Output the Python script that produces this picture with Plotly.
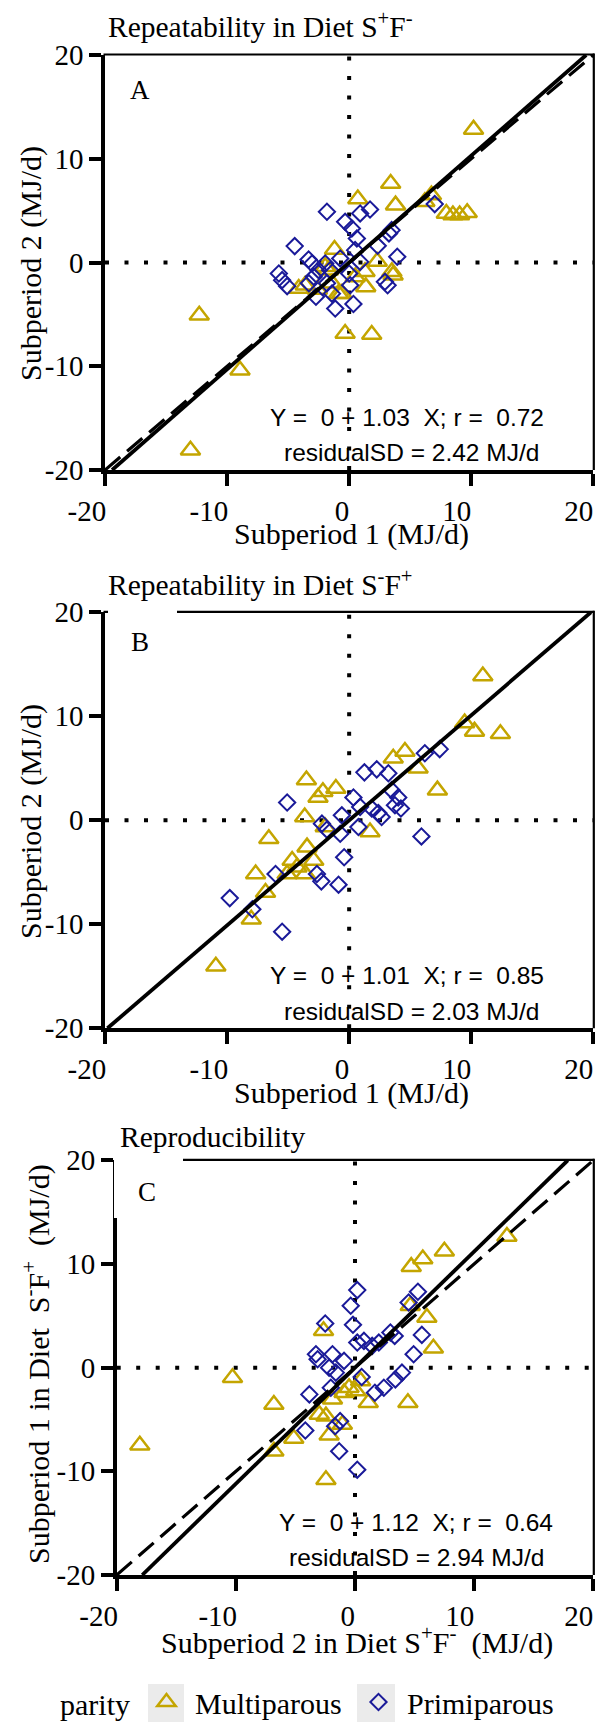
import plotly.graph_objects as go

W, H = 602, 1722

# ---------------- data ----------------
# Panel A: Repeatability in Diet S+F-  (x = Subperiod 1, y = Subperiod 2)
a_multi_x = [10.19, 3.40, 0.71, 3.80, 6.74, 6.2, 7.96, 8.5, 9.05, 9.67, -1.2, 2.3, 1.3, 3.6,
             1.36, -0.33, 1.85, -12.28, -8.94, -13.0, -4.13, -3.6, -1.96, -1.4, -0.6, 0.5,
             -0.87, -1.7, 3.5, -2.6]
a_multi_y = [12.83, 7.62, 6.11, 5.53, 6.5, 5.85, 4.73, 4.57, 4.57, 4.79, 1.25, 0.1, -0.9, -1.22,
             -2.35, -6.85, -6.95, -5.08, -10.39, -18.1, -2.5, -2.2, -0.42, -2.0, -3.0, -1.4,
             -3.0, -0.74, -0.9, -2.6]
a_primi_x = [-1.82, -0.33, 0.9, 1.71, 0.22, 0.63, 0.49, 3.48, 3.26, 2.34, 3.94, -4.46, 0.9,
             -3.32, -3.04, -5.76, -5.49, -5.08, -2.5, -2.9, -3.3, -1.96, -1.55, -1.82, -1.41,
             -2.72, -1.14, 0.35, 0.08, 2.93, 3.15, 7.01, -0.73, 0.0]
a_primi_y = [4.89, 3.92, 4.73, 5.11, 3.28, 2.32, 1.19, 3.12, 2.8, 1.61, 0.55, 1.58, 0.06,
             0.29, -0.1, -1.06, -1.7, -2.28, -0.74, -1.38, -2.0, -0.1, -0.74, -2.0, -3.0,
             -3.3, -4.44, -4.0, -2.19, -1.86, -2.19, 5.63, 0.39, -1.06]

# Panel B: Repeatability in Diet S-F+
b_multi_x = [10.95, 9.46, 10.27, 12.39, 4.57, 3.61, 5.65, 7.23, -3.5, -2.15, -2.55, -1.09,
             -3.64, -6.58, 1.71, -1.96, -3.45, -4.67, -2.9, -7.66, -5.08, -3.59, -6.85,
             -8.02, -10.92, -4.27]
b_multi_y = [13.87, 9.35, 8.55, 8.32, 6.61, 5.97, 5.0, 2.9, 3.87, 2.74, 2.19, 3.06, 0.32,
             -1.77, -1.13, -0.65, -2.58, -3.87, -3.87, -5.16, -5.16, -5.16, -6.94, -9.52,
             -14.03, -4.52]
b_primi_x = [7.42, 6.2, 1.25, 2.26, 3.21, -5.08, 0.35, 3.48, 4.02, 4.24, 2.39, 2.66, -0.6,
             -2.23, -1.82, 0.76, 0.9, -0.73, 5.92, -0.41, -6.03, -2.64, -2.28, -0.87, -9.78,
             -7.93, -5.49, 1.85, 3.75]
b_primi_y = [6.84, 6.45, 4.61, 4.9, 4.52, 1.71, 2.19, 2.9, 2.19, 1.13, 0.71, 0.32, 0.48,
             -0.32, -0.9, -0.65, 1.29, -1.29, -1.55, -3.55, -5.16, -5.16, -5.87, -6.19, -7.48,
             -8.55, -10.71, 1.13, 1.45]

# Panel C: Reproducibility (x = Subperiod 2 in S+F-, y = Subperiod 1 in S-F+)
c_multi_x = [12.75, 7.5, 5.69, 4.72, 4.64, 6.03, 6.58, -2.64, -10.28, -6.81, 4.44, 1.11,
             -0.5, -0.92, -1.89, -3.0, -2.44, -1.06, -2.17, -5.14, -6.81, -18.06, -2.44,
             0.06, 0.47]
c_multi_y = [12.65, 11.23, 10.48, 9.74, 5.97, 4.84, 1.87, 3.55, -0.97, -3.55, -3.39, -3.39,
             -1.94, -2.42, -3.06, -4.52, -4.68, -5.48, -6.52, -6.84, -8.06, -7.48, -10.81,
             -2.26, -1.29]
c_primi_x = [0.19, -0.36, 5.28, 4.5, -2.5, -0.17, 3.33, 2.97, 5.61, 0.19, 1.44, 0.75, -3.28,
             -3.14, -1.89, -0.92, -2.17, -1.61, 0.56, 4.92, 3.94, 3.39, 2.42, 1.67, -2.03,
             -3.83, -1.25, -1.67, -4.17, -1.33, 0.19, 2.0]
c_primi_y = [7.48, 5.97, 7.32, 6.29, 4.26, 4.13, 3.06, 3.39, 3.16, 2.42, 2.1, 2.58, 1.29,
             0.81, 1.29, 0.65, 0.0, -0.48, -0.9, 1.29, -0.48, -1.13, -1.94, -2.42, -1.94,
             -2.58, -5.16, -5.65, -6.06, -8.06, -9.84, 2.42]

slopes = [1.03, 1.01, 1.12]
r_values = [0.72, 0.85, 0.64]
resid_sd = [2.42, 2.03, 2.94]
show_identity = [True, False, True]
panel_letters = ["A", "B", "C"]
panel_titles = ["Repeatability in Diet S<sup>+</sup>F<sup>-</sup>",
                "Repeatability in Diet S<sup>-</sup>F<sup>+</sup>",
                "Reproducibility"]
x_titles = ["Subperiod 1 (MJ/d)", "Subperiod 1 (MJ/d)",
            "Subperiod 2 in Diet S<sup>+</sup>F<sup>-</sup>\u00a0\u00a0(MJ/d)"]
y_titles = ["Subperiod 2 (MJ/d)", "Subperiod 2 (MJ/d)",
            "Subperiod 1 in Diet\u00a0\u00a0S<sup>-</sup>F<sup>+</sup>\u00a0\u00a0(MJ/d)"]
tick_vals = [-20, -10, 0, 10, 20]
tick_text = ["-20", "-10", "0", "10", "20"]
axis_range = [-20, 20]
group_names = ["Multiparous", "Primiparous"]

# ---------------- styling / layout ----------------
SERIF = "Liberation Serif, Times New Roman, serif"
SANS = "Liberation Sans, Arial, sans-serif"
GOLD = "#C4A500"
NAVY = "#1A1A99"
NB = "\u00a0"
# x tick labels in the original sit with their right edge at the tick:
# pad each label on the right by (roughly) its own width
pad_counts = {"-20": 5, "-10": 5, "0": 2, "10": 4, "20": 4}
x_tick_text = [t + NB * pad_counts[t] for t in tick_text]

# pixel boxes of plot areas: (left, right, top, bottom)
boxes = [(105, 593.3, 55, 470), (105, 593.3, 612.3, 1028.3), (116.7, 593.3, 1160.3, 1575)]

def fx(p):
    return p / W

def fy(p):
    return 1 - p / H

panels = [
    (a_multi_x, a_multi_y, a_primi_x, a_primi_y),
    (b_multi_x, b_multi_y, b_primi_x, b_primi_y),
    (c_multi_x, c_multi_y, c_primi_x, c_primi_y),
]

fig = go.Figure()
layout = dict(width=W, height=H, margin=dict(l=0, r=0, t=0, b=0, autoexpand=False),
              paper_bgcolor="white", plot_bgcolor="white", showlegend=True)
shapes = []
annotations = []

for i, (mx, my, px_, py_) in enumerate(panels):
    n = "" if i == 0 else str(i + 1)
    xa, ya = "x" + n, "y" + n
    L, R, T, B = boxes[i]
    common = dict(range=axis_range, tickvals=tick_vals, ticks="outside",
                  ticklen=12, tickwidth=3.5, tickcolor="black", showline=True, linewidth=3.5,
                  linecolor="black", showgrid=False, zeroline=False,
                  tickfont=dict(family=SERIF, size=29, color="black"), fixedrange=True,
                  ticklabeloverflow="allow")
    layout["xaxis" + n] = dict(domain=[fx(L), fx(R)], anchor=ya, ticktext=x_tick_text, **common)
    layout["yaxis" + n] = dict(domain=[fy(B), fy(T)], anchor=xa, ticktext=tick_text, **common)

    # dotted reference lines at zero
    fig.add_trace(go.Scatter(x=[0, 0], y=axis_range, mode="lines", xaxis=xa, yaxis=ya,
                             line=dict(color="black", width=4, dash="4px,15.5px"),
                             showlegend=False, hoverinfo="skip"))
    fig.add_trace(go.Scatter(x=axis_range, y=[0, 0], mode="lines", xaxis=xa, yaxis=ya,
                             line=dict(color="black", width=4, dash="4px,15.5px"),
                             showlegend=False, hoverinfo="skip"))
    # points
    fig.add_trace(go.Scatter(x=mx, y=my, mode="markers", xaxis=xa, yaxis=ya,
                             name=group_names[0], legendgroup="m", showlegend=(i == 0),
                             marker=dict(symbol="triangle-up-open", size=17, color=GOLD,
                                         line=dict(width=2.5, color=GOLD))))
    fig.add_trace(go.Scatter(x=px_, y=py_, mode="markers", xaxis=xa, yaxis=ya,
                             name=group_names[1], legendgroup="p", showlegend=(i == 0),
                             marker=dict(symbol="diamond-open", size=12.5, color=NAVY,
                                         line=dict(width=2, color=NAVY))))
    # identity line (dashed) and fitted line (solid)
    if show_identity[i]:
        fig.add_trace(go.Scatter(x=axis_range, y=axis_range, mode="lines", xaxis=xa, yaxis=ya,
                                 line=dict(color="black", width=3.2, dash="20px,9px"),
                                 showlegend=False, hoverinfo="skip"))
    s = slopes[i]
    fx_line = [axis_range[0] / max(s, 1), axis_range[1] / max(s, 1)]
    fig.add_trace(go.Scatter(x=fx_line, y=[s * v for v in fx_line], mode="lines",
                             xaxis=xa, yaxis=ya, line=dict(color="black", width=3.8),
                             showlegend=False, hoverinfo="skip"))

    # top and right borders (thinner)
    shapes.append(dict(type="line", xref="paper", yref="paper", x0=fx(L - 1.5), x1=fx(R + 1),
                       y0=fy(T - 0.5), y1=fy(T - 0.5), line=dict(color="black", width=2.2)))
    shapes.append(dict(type="line", xref="paper", yref="paper", x0=fx(R + 0.5), x1=fx(R + 0.5),
                       y0=fy(T - 1.5), y1=fy(B), line=dict(color="black", width=2.2)))

    # texts
    annotations.append(dict(text=panel_titles[i], xref="paper", yref="paper",
                            x=fx(L + 1), y=fy([25, 583, 1137][i]), xanchor="left",
                            yanchor="middle", showarrow=False,
                            font=dict(family=SERIF, size=29.5, color="black")))
    annotations.append(dict(text=panel_letters[i], xref="paper", yref="paper",
                            x=fx([140, 140, 147][i]), y=fy([90, 642, 1192][i]),
                            xanchor="center", yanchor="middle", showarrow=False,
                            font=dict(family=SERIF, size=27, color="black")))
    annotations.append(dict(text=x_titles[i], xref="paper", yref="paper",
                            x=fx([351, 351, 357][i]), y=fy([534, 1093, 1640][i]),
                            xanchor="center", yanchor="middle", showarrow=False,
                            font=dict(family=SERIF, size=30, color="black")))
    annotations.append(dict(text=y_titles[i], xref="paper", yref="paper", textangle=-90,
                            x=fx([31, 31, 36][i]), y=fy([264, 822, 1364][i]),
                            xanchor="center", yanchor="middle", showarrow=False,
                            font=dict(family=SERIF, size=30, color="black")))
    eq1 = "Y =\u00a0\u00a00 + %.2f\u00a0\u00a0X; r =\u00a0\u00a0%.2f" % (slopes[i], r_values[i])
    eq2 = "residualSD = %.2f MJ/d" % resid_sd[i]
    annotations.append(dict(text=eq1, xref="paper", yref="paper",
                            x=fx([407, 407, 416][i]), y=fy([417, 975, 1522][i]),
                            xanchor="center", yanchor="middle", showarrow=False,
                            font=dict(family=SANS, size=24.5, color="black")))
    annotations.append(dict(text=eq2, xref="paper", yref="paper",
                            x=fx([411, 411, 416][i]), y=fy([453, 1012, 1557][i]),
                            xanchor="center", yanchor="middle", showarrow=False,
                            font=dict(family=SANS, size=24.5, color="black")))

# white patches masking parts of the frame (as in the original figure)
shapes.append(dict(type="rect", xref="paper", yref="paper", layer="above",
                   x0=fx(108), x1=fx(177), y0=fy(616), y1=fy(607),
                   fillcolor="white", line=dict(width=0)))
shapes.append(dict(type="rect", xref="paper", yref="paper", layer="above",
                   x0=fx(114), x1=fx(183), y0=fy(1218), y1=fy(1157),
                   fillcolor="white", line=dict(width=0)))
# grey legend keys
for x0, x1 in [(148, 184), (357, 395)]:
    shapes.append(dict(type="rect", xref="paper", yref="paper", layer="below",
                       x0=fx(x0), x1=fx(x1), y0=fy(1722), y1=fy(1684),
                       fillcolor="#EBEBEB", line=dict(width=0)))

layout["shapes"] = shapes
layout["annotations"] = annotations
layout["legend"] = dict(orientation="h", x=fx(58), y=fy(1702), xanchor="left",
                        yanchor="middle", bgcolor="rgba(0,0,0,0)",
                        title=dict(text="parity", side="left",
                                   font=dict(family=SERIF, size=30, color="black")),
                        font=dict(family=SERIF, size=30, color="black"),
                        itemwidth=47, entrywidth=150, entrywidthmode="pixels")
fig.update_layout(**layout)
fig.write_html("out.html", config={"displayModeBar": False},
               post_script="document.body.style.margin='0px';document.body.style.overflow='hidden';")
